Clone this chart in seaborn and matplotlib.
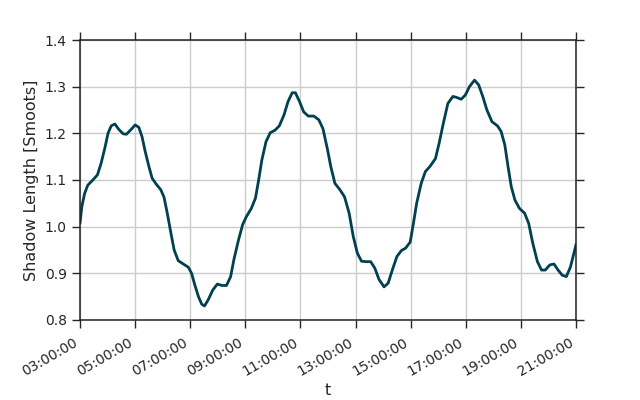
import pandas as pd
import numpy as np
import matplotlib
matplotlib.use('Agg')
import matplotlib.pyplot as plt
import matplotlib.dates as mdates
import seaborn as sns

# ------------------------------------------------------------------
# Data: minutes after 03:00 and shadow length
# ------------------------------------------------------------------
start = '2000-01-01 03:00'

minutes = [
    0, 4, 10, 17, 28, 38, 46, 54, 61, 68, 76, 84, 94, 101, 112, 120,
    128, 135, 142, 150, 157, 166, 176, 183, 190, 198, 205, 214, 225, 236,
    243, 250, 258, 265, 271, 279, 289, 299, 309, 319, 328, 335, 345, 354,
    362, 373, 382, 389, 396, 405, 414, 425, 434, 444, 453, 462, 469, 478,
    487, 497, 509, 520, 529, 539, 546, 555, 566, 576, 586, 595, 604, 613,
    622, 633, 642, 651, 662, 671, 680, 690, 700, 709, 719, 726, 733, 743,
    752, 762, 774, 782, 791, 801, 812, 820, 830, 839, 848, 859, 868, 877,
    886, 897, 909, 917, 925, 932, 939, 947, 957, 968, 977, 986, 996, 1005,
    1013, 1023, 1032, 1041, 1050, 1059, 1068, 1079, 1080,
]
shadow = [
    1.007, 1.043, 1.071, 1.089, 1.100, 1.111, 1.136, 1.168, 1.200, 1.216, 1.220, 1.209, 1.199, 1.198, 1.209, 1.218,
    1.213, 1.193, 1.161, 1.129, 1.104, 1.091, 1.079, 1.063, 1.029, 0.986, 0.950, 0.927, 0.920, 0.913,
    0.900, 0.875, 0.850, 0.834, 0.830, 0.843, 0.864, 0.877, 0.874, 0.874, 0.893, 0.929, 0.971, 1.004,
    1.021, 1.039, 1.061, 1.100, 1.143, 1.182, 1.201, 1.207, 1.216, 1.239, 1.268, 1.287, 1.287, 1.268,
    1.246, 1.237, 1.237, 1.229, 1.210, 1.165, 1.129, 1.093, 1.079, 1.064, 1.029, 0.979, 0.943, 0.926,
    0.925, 0.925, 0.911, 0.887, 0.871, 0.879, 0.907, 0.936, 0.949, 0.954, 0.967, 1.007, 1.050, 1.093,
    1.118, 1.129, 1.146, 1.179, 1.221, 1.264, 1.279, 1.277, 1.273, 1.282, 1.300, 1.314, 1.304, 1.279,
    1.250, 1.225, 1.216, 1.204, 1.175, 1.129, 1.086, 1.057, 1.039, 1.029, 1.007, 0.964, 0.925, 0.907,
    0.907, 0.918, 0.920, 0.907, 0.896, 0.893, 0.914, 0.957, 0.962,
]

df = pd.DataFrame({
    't': pd.Timestamp(start) + pd.to_timedelta(minutes, unit='min'),
    'shadow': shadow,
})

# ------------------------------------------------------------------
# Plot
# ------------------------------------------------------------------
sns.set_theme(context='notebook', style='ticks',
              rc={'axes.grid': True, 'xtick.labelsize': 10, 'ytick.labelsize': 10,
                  'axes.labelsize': 11.5, 'axes.linewidth': 1.1,
                  'xtick.major.width': 1.0, 'ytick.major.width': 1.0})
plt.rcParams['font.family'] = ['DejaVu Sans']

fig, ax = plt.subplots(figsize=(6.4, 4.0), dpi=100)
sns.lineplot(data=df, x='t', y='shadow', ax=ax, color='#00404f', lw=2,
             solid_joinstyle='round')

ax.set_xlim(pd.Timestamp(start), pd.Timestamp('2000-01-01 21:00'))
ax.set_ylim(0.8, 1.4)
ax.set_yticks(np.arange(0.8, 1.41, 0.1))
ax.xaxis.set_major_locator(mdates.HourLocator(byhour=range(3, 22, 2)))
ax.xaxis.set_major_formatter(mdates.DateFormatter('%H:%M:%S'))
ax.tick_params(top=True, right=True, direction='out', length=6)
ax.tick_params(axis='x', pad=5)
ax.set_xlabel('t', labelpad=3)
ax.set_ylabel('Shadow Length [Smoots]')

for s in ax.spines.values():
    s.set_color('#222222')

fig.subplots_adjust(left=0.125, right=0.9, top=0.9, bottom=0.2)
plt.setp(ax.get_xticklabels(), rotation=30, ha='right')

plt.savefig('out.png', dpi=100)
